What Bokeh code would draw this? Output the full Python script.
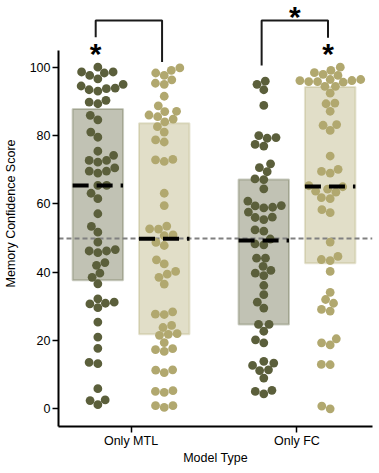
import numpy as np
from bokeh.plotting import figure
from bokeh.models import Range1d, FixedTicker, ColumnDataSource
from bokeh.embed import file_html
from bokeh.resources import INLINE
from bokeh.core.properties import value

# ---------------- data ----------------
model_types = ["Only MTL", "Only FC"]
y_ticks = [0, 20, 40, 60, 80, 100]
chance_level = 50

mtl_dark = [100.0, 98.6, 97.6, 96.6, 98.3, 98.6, 95.0, 94.5, 93.4, 93.0, 93.7, 93.9, 89.8, 89.3,
            90.3, 85.9, 84.6, 81.0, 79.5, 75.4, 72.7, 72.2, 72.7, 74.2, 70.5, 69.6, 69.0, 69.6,
            65.4, 65.4, 63.1, 61.5, 57.1, 53.4, 51.7, 48.8, 46.6, 46.2, 45.7, 46.2, 42.8, 42.0,
            39.7, 38.5, 36.6, 32.2, 30.7, 29.6, 30.9, 31.2, 25.4, 21.0, 17.7, 13.6, 13.2, 5.9,
            2.4, 2.6, 1.2]
mtl_light = [99.8, 98.3, 97.6, 99.1, 95.3, 95.0, 96.3, 91.5, 88.7, 86.0, 85.5, 87.0, 87.1, 84.8,
             84.0, 82.6, 81.0, 78.7, 78.1, 72.9, 72.4, 73.0, 63.1, 59.5, 52.7, 53.5, 52.6, 50.7,
             50.9, 48.7, 47.8, 43.6, 42.4, 38.5, 39.4, 40.2, 36.5, 27.7, 27.6, 28.4, 23.8, 24.4,
             21.8, 21.5, 22.0, 19.4, 17.3, 16.8, 17.6, 11.3, 10.6, 11.4, 5.1, 4.8, 5.3, 0.9, 0.4, 0.9]
fc_dark = [95.9, 95.0, 93.4, 88.8, 80.0, 79.2, 79.4, 77.4, 76.9, 71.7, 70.6, 69.4, 67.3, 67.1,
           64.4, 60.8, 59.4, 58.8, 59.0, 59.5, 57.6, 56.0, 55.4, 56.1, 52.4, 52.0, 49.7, 48.3,
           48.0, 44.1, 44.1, 41.7, 39.7, 39.0, 40.5, 36.1, 33.4, 31.2, 29.5, 24.7, 24.7, 22.7,
           20.2, 19.3, 13.4, 13.9, 12.7, 11.2, 11.4, 9.0, 5.1, 4.4, 5.4]
fc_light = [100.0, 99.1, 97.6, 97.9, 98.4, 96.4, 95.8, 95.8, 96.1, 95.6, 96.1, 96.4, 94.4, 94.4,
            92.4, 89.3, 89.5, 87.1, 83.0, 83.2, 81.5, 74.0, 69.5, 69.0, 70.1, 65.3, 65.0, 64.3,
            63.7, 63.4, 61.8, 61.5, 58.3, 57.4, 48.8, 43.7, 43.4, 44.6, 40.2, 34.1, 32.0, 30.9,
            29.1, 28.6, 19.3, 18.7, 20.5, 13.0, 12.9, 0.8, 0.0]

# box (interquartile) limits and medians, order: MTL dark, MTL light, FC dark, FC light
box_low = [37.6, 21.8, 24.7, 42.6]
box_high = [87.8, 83.6, 67.1, 94.2]
medians = [65.4, 49.8, 49.3, 65.1]

# ---------------- layout ----------------
W, H = 379, 473
B_LEFT, B_RIGHT, B_TOP, B_BOTTOM = 56, 7, 0, 47
PX_Y = 3.416           # pixels per score unit
ZERO_Y = 408.3         # page y of score 0
frame_h = H - B_TOP - B_BOTTOM
Y1 = (ZERO_Y - B_TOP) / PX_Y
Y0 = Y1 - frame_h / PX_Y
PX_X = 167.0
X0 = -(129 - B_LEFT) / PX_X
X1 = X0 + (W - B_LEFT - B_RIGHT) / PX_X

dark_pt, light_pt = "#5b5f3b", "#b1a86f"
series = [mtl_dark, mtl_light, fc_dark, fc_light]
colors = [dark_pt, light_pt, dark_pt, light_pt]
offset = 0.2
centers = [g + o for g in range(len(model_types)) for o in (-offset, offset)]
half_w = 0.152


def swarm(vals, diam=8.5):
    """seaborn-style beeswarm, computed in screen pixels"""
    y = np.asarray(vals, dtype=float) * PX_Y
    order = np.argsort(y, kind="stable")
    out = np.zeros(len(y))
    placed = []
    for i in order:
        yi = y[i]
        neigh = []
        for xj, yj in reversed(placed):
            if abs(yi - yj) < diam:
                neigh.append((xj, yj))
            else:
                break
        cands = [0.0]
        left_first = True
        for xj, yj in neigh:
            dx = np.sqrt(max(diam ** 2 - (yj - yi) ** 2, 0.0)) * 1.05
            pair = [xj - dx, xj + dx]
            cands += pair if left_first else pair[::-1]
            left_first = not left_first
        cands.sort(key=abs)
        chosen = cands[-1]
        for c in cands:
            if all((c - xj) ** 2 + (yi - yj) ** 2 >= diam ** 2 * 0.999 for xj, yj in neigh):
                chosen = c
                break
        placed.append((chosen, yi))
        out[i] = chosen
    return out / PX_X


p = figure(width=W, height=H, output_backend="svg", toolbar_location=None,
           x_range=Range1d(X0, X1), y_range=Range1d(Y0, Y1),
           min_border_left=B_LEFT, min_border_right=B_RIGHT,
           min_border_top=B_TOP, min_border_bottom=B_BOTTOM)
p.outline_line_color = None
p.grid.visible = False
p.background_fill_color = "white"

# boxes
p.quad(left=[c - half_w for c in centers], right=[c + half_w for c in centers],
       bottom=box_low, top=box_high, fill_color=colors, fill_alpha=0.38,
       line_color=colors, line_alpha=0.3, line_width=2)

# chance line
p.hspan(y=[chance_level], line_color="#808080", line_width=2, line_dash="5 3")

# points
for vals, c, col in zip(series, centers, colors):
    xs = c + swarm(vals)
    p.scatter(x=xs, y=vals, size=8.8, fill_color=col, line_color=None)

# medians
p.segment(x0=[c - half_w for c in centers], x1=[c + half_w for c in centers],
          y0=medians, y1=medians, line_color="black", line_width=4, line_dash="16 8")

# significance brackets
leg = 0.013
bracket_top = 113.7
br_src = ColumnDataSource(dict(
    xs=[[centers[0] - leg, centers[0] - leg, centers[1] - leg, centers[1] - leg],
        [centers[2] - leg, centers[2] - leg, centers[3] - leg, centers[3] - leg]],
    ys=[[108.8, bracket_top, bracket_top, 101.5],
        [100.5, bracket_top, bracket_top, 108.6]]))
p.multi_line(xs="xs", ys="ys", source=br_src, line_color="#1a1a1a", line_width=2)

p.text(x=[centers[0] - leg, centers[3] - leg, (centers[2] + centers[3]) / 2 - leg],
       y=[104.1, 104.1, 114.7], text=["*", "*", "*"],
       text_font=value("Liberation Sans"), text_font_style="bold", text_font_size="30px",
       text_align="center", text_baseline="alphabetic", text_color="black")

# axes
p.xaxis.ticker = FixedTicker(ticks=list(range(len(model_types))))
p.xaxis.major_label_overrides = {i: m for i, m in enumerate(model_types)}
p.yaxis.ticker = FixedTicker(ticks=y_ticks)
p.yaxis.bounds = (Y0, 105)
for ax in (p.xaxis, p.yaxis):
    ax.axis_line_width = 2
    ax.axis_line_color = "black"
    ax.major_tick_line_width = 1.5
    ax.major_tick_line_color = "black"
    ax.major_tick_out = 6
    ax.major_tick_in = 0
    ax.minor_tick_line_color = None
    ax.major_label_text_font = "Liberation Sans"
    ax.major_label_text_font_size = "12.5px"
    ax.major_label_text_color = "black"
    ax.axis_label_text_font = "Liberation Sans"
    ax.axis_label_text_font_size = "12.5px"
    ax.axis_label_text_font_style = "normal"
    ax.axis_label_text_color = "black"
p.yaxis.axis_label = "Memory Confidence Score"
p.xaxis.axis_label = "Model Type"
p.yaxis.major_label_standoff = 2
p.yaxis.axis_label_standoff = 9
p.xaxis.major_label_standoff = 1
p.xaxis.axis_label_standoff = 0

open("out.html", "w").write(file_html(p, INLINE))
